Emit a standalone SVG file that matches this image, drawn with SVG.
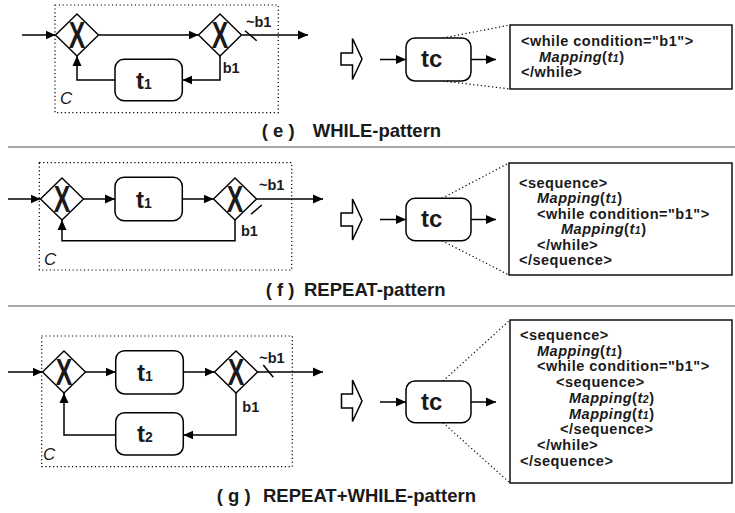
<svg xmlns="http://www.w3.org/2000/svg" width="735" height="513" viewBox="0 0 735 513">
<defs>
<marker id="ah" markerUnits="userSpaceOnUse" markerWidth="12" markerHeight="10" refX="10" refY="5" orient="auto">
<path d="M0,0.5 L10,5 L0,9.5 Z" fill="#000"/>
</marker>
<style>
.bg{fill:#fff}
.ln{fill:none;stroke:#000;stroke-width:1.5}
.arr{fill:none;stroke:#000;stroke-width:1.5;marker-end:url(#ah)}
.dot{fill:none;stroke:#000;stroke-width:1.2;stroke-dasharray:1.2 2.6}
.node{fill:#fff;stroke:#000;stroke-width:1.5}
.dia{fill:#fff;stroke:#000;stroke-width:1.4}
.sep{stroke:#8a8a8a;stroke-width:1.6}
.code{fill:#fff;stroke:#000;stroke-width:1.4}
text{font-family:"Liberation Sans",Arial,sans-serif;fill:#1a1a1a}
.x{font-size:37px;font-weight:bold;text-anchor:middle}
.lab{font-size:14.5px;font-weight:bold}
.c{font-size:17px;font-style:italic}
.t{font-size:24px;font-weight:bold}
.sub{font-size:14px}
.ct{font-size:14.5px;font-weight:bold;letter-spacing:0.5px}
.it{font-style:italic}
.sm{font-size:10.5px}
.ttl{font-size:18.5px;font-weight:bold}
</style>
</defs>
<rect class="bg" x="0" y="0" width="735" height="513"/>

<!-- separators -->
<line class="sep" x1="8" y1="147" x2="735" y2="147"/>
<line class="sep" x1="8" y1="306" x2="735" y2="306"/>

<!-- ================= panel e ================= -->
<g id="e-container">
<rect class="dot" x="55" y="5" width="223.3" height="107.7"/>
<text class="c" x="60" y="104">C</text>
</g>
<g id="e-connectors">
<line class="arr" x1="22" y1="35" x2="55.5" y2="35"/>
<line class="arr" x1="98.5" y1="35" x2="198.5" y2="35"/>
<line class="arr" x1="241.5" y1="35" x2="308" y2="35"/>
<line class="ln" x1="245" y1="30.7" x2="256.7" y2="40.7"/>
<polyline class="arr" points="220,56 220,80 182.3,80"/>
<polyline class="arr" points="115,80 77,80 77,56"/>
<line class="arr" x1="380" y1="59.5" x2="406" y2="59.5"/>
<line class="arr" x1="471" y1="59.5" x2="496" y2="59.5"/>
<line class="dot" x1="443" y1="38" x2="510" y2="25"/>
<line class="dot" x1="443" y1="81" x2="510" y2="89"/>
</g>
<g id="e-gw1">
<polygon class="dia" points="77,14 98.5,35 77,56 55.5,35"/>
<text class="x" transform="translate(77,48.2) scale(0.67,1)" x="0" y="0">X</text>
</g>
<g id="e-gw2">
<polygon class="dia" points="220,14 241.5,35 220,56 198.5,35"/>
<text class="x" transform="translate(220,48.2) scale(0.67,1)" x="0" y="0">X</text>
<text class="lab" x="246" y="26.7">~b1</text>
<text class="lab" x="222.7" y="73.3">b1</text>
</g>
<g id="e-t1">
<rect class="node" x="115" y="59.3" width="67.3" height="41.4" rx="9"/>
<text class="t" x="136" y="89.3">t<tspan class="sub">1</tspan></text>
</g>
<g id="e-arrow">
<polygon class="ln" points="341,53 352.5,53 352.5,38.5 362,59 352.5,79.5 352.5,65 341,65"/>
</g>
<g id="e-tc">
<rect class="node" x="406" y="38" width="65" height="43" rx="9"/>
<text class="t" x="421" y="67">tc</text>
</g>
<g id="e-code">
<rect class="code" x="510" y="25" width="222" height="64"/>
<text class="ct" x="521" y="46">&lt;while condition="b1"&gt;</text>
<text class="ct" x="539" y="61.6"><tspan class="it">Mapping</tspan>(<tspan class="it">t</tspan><tspan class="it sm">1</tspan>)</text>
<text class="ct" x="521" y="77.2">&lt;/while&gt;</text>
</g>
<g id="e-title">
<text class="ttl" x="261.7" y="137">( e )</text>
<text class="ttl" x="312.7" y="137">WHILE-pattern</text>
</g>

<!-- ================= panel f ================= -->
<g id="f-container">
<rect class="dot" x="39.3" y="162.7" width="252.4" height="107.3"/>
<text class="c" x="44" y="265">C</text>
</g>
<g id="f-connectors">
<line class="arr" x1="8" y1="199" x2="40.5" y2="199"/>
<line class="arr" x1="83.5" y1="199" x2="115" y2="199"/>
<line class="arr" x1="182.3" y1="199" x2="213.5" y2="199"/>
<line class="arr" x1="256.5" y1="199" x2="323" y2="199"/>
<line class="ln" x1="251" y1="214.3" x2="261.7" y2="205"/>
<polyline class="arr" points="235,220 235,240.7 62,240.7 62,220"/>
<line class="arr" x1="380" y1="219.5" x2="406" y2="219.5"/>
<line class="arr" x1="471" y1="219.5" x2="496" y2="219.5"/>
<line class="dot" x1="442" y1="198.3" x2="509" y2="163"/>
<line class="dot" x1="442" y1="240.7" x2="509" y2="275"/>
</g>
<g id="f-gw1">
<polygon class="dia" points="62,178 83.5,199 62,220 40.5,199"/>
<text class="x" transform="translate(62,212.2) scale(0.67,1)" x="0" y="0">X</text>
</g>
<g id="f-t1">
<rect class="node" x="115" y="177.3" width="67.3" height="43.4" rx="9"/>
<text class="t" x="136" y="208">t<tspan class="sub">1</tspan></text>
</g>
<g id="f-gw2">
<polygon class="dia" points="235,178 256.5,199 235,220 213.5,199"/>
<text class="x" transform="translate(235,212.2) scale(0.67,1)" x="0" y="0">X</text>
<text class="lab" x="259" y="190">~b1</text>
<text class="lab" x="241" y="235.5">b1</text>
</g>
<g id="f-arrow">
<polygon class="ln" points="341,213 352.5,213 352.5,199 362,219.5 352.5,240 352.5,226 341,226"/>
</g>
<g id="f-tc">
<rect class="node" x="406" y="198.3" width="65" height="42.4" rx="9"/>
<text class="t" x="421" y="227">tc</text>
</g>
<g id="f-code">
<rect class="code" x="509" y="163" width="223" height="112"/>
<text class="ct" x="519" y="188">&lt;sequence&gt;</text>
<text class="ct" x="537" y="203.4"><tspan class="it">Mapping</tspan>(<tspan class="it">t</tspan><tspan class="it sm">1</tspan>)</text>
<text class="ct" x="537" y="218.8">&lt;while condition="b1"&gt;</text>
<text class="ct" x="561" y="234.2"><tspan class="it">Mapping</tspan>(<tspan class="it">t</tspan><tspan class="it sm">1</tspan>)</text>
<text class="ct" x="537" y="249.6">&lt;/while&gt;</text>
<text class="ct" x="519" y="265">&lt;/sequence&gt;</text>
</g>
<g id="f-title">
<text class="ttl" x="265.7" y="296">( f )</text>
<text class="ttl" x="304" y="296">REPEAT-pattern</text>
</g>

<!-- ================= panel g ================= -->
<g id="g-container">
<rect class="dot" x="41.7" y="336" width="250.6" height="130.7"/>
<text class="c" x="43" y="460">C</text>
</g>
<g id="g-connectors">
<line class="arr" x1="8" y1="372" x2="42.5" y2="372"/>
<line class="arr" x1="85.5" y1="372" x2="115.7" y2="372"/>
<line class="arr" x1="183.3" y1="372" x2="214.5" y2="372"/>
<line class="arr" x1="257.5" y1="372" x2="323" y2="372"/>
<line class="ln" x1="263.3" y1="365" x2="273.3" y2="377.3"/>
<polyline class="arr" points="236,393 236,435 183.3,435"/>
<polyline class="arr" points="115.7,435 64,435 64,393"/>
<line class="arr" x1="380" y1="402" x2="406" y2="402"/>
<line class="arr" x1="471" y1="402" x2="496" y2="402"/>
<line class="dot" x1="443" y1="381" x2="510" y2="320"/>
<line class="dot" x1="443" y1="422.7" x2="510" y2="483"/>
</g>
<g id="g-gw1">
<polygon class="dia" points="64,351 85.5,372 64,393 42.5,372"/>
<text class="x" transform="translate(64,385.2) scale(0.67,1)" x="0" y="0">X</text>
</g>
<g id="g-t1">
<rect class="node" x="115.7" y="350.7" width="67.6" height="43.3" rx="9"/>
<text class="t" x="137" y="381">t<tspan class="sub">1</tspan></text>
</g>
<g id="g-gw2">
<polygon class="dia" points="236,351 257.5,372 236,393 214.5,372"/>
<text class="x" transform="translate(236,385.2) scale(0.67,1)" x="0" y="0">X</text>
<text class="lab" x="259.3" y="363.3">~b1</text>
<text class="lab" x="242.3" y="411.7">b1</text>
</g>
<g id="g-t2">
<rect class="node" x="115.7" y="412.7" width="67.6" height="42.3" rx="9"/>
<text class="t" x="137" y="442">t<tspan class="sub">2</tspan></text>
</g>
<g id="g-arrow">
<polygon class="ln" points="341.5,394 352.5,394 352.5,380 362,401 352.5,421.5 352.5,408 341.5,408"/>
</g>
<g id="g-tc">
<rect class="node" x="406" y="381" width="65" height="41.7" rx="9"/>
<text class="t" x="421" y="409.5">tc</text>
</g>
<g id="g-code">
<rect class="code" x="510" y="320" width="222" height="163"/>
<text class="ct" x="520" y="340">&lt;sequence&gt;</text>
<text class="ct" x="537" y="355.7"><tspan class="it">Mapping</tspan>(<tspan class="it">t</tspan><tspan class="it sm">1</tspan>)</text>
<text class="ct" x="537" y="371.4">&lt;while condition="b1"&gt;</text>
<text class="ct" x="556" y="387.1">&lt;sequence&gt;</text>
<text class="ct" x="569" y="402.8"><tspan class="it">Mapping</tspan>(<tspan class="it">t</tspan><tspan class="it sm">2</tspan>)</text>
<text class="ct" x="569" y="418.5"><tspan class="it">Mapping</tspan>(<tspan class="it">t</tspan><tspan class="it sm">1</tspan>)</text>
<text class="ct" x="560" y="434.2">&lt;/sequence&gt;</text>
<text class="ct" x="537" y="449.9">&lt;/while&gt;</text>
<text class="ct" x="520" y="465.6">&lt;/sequence&gt;</text>
</g>
<g id="g-title">
<text class="ttl" x="216.7" y="502">( g )</text>
<text class="ttl" x="263" y="502">REPEAT+WHILE-pattern</text>
</g>
</svg>
